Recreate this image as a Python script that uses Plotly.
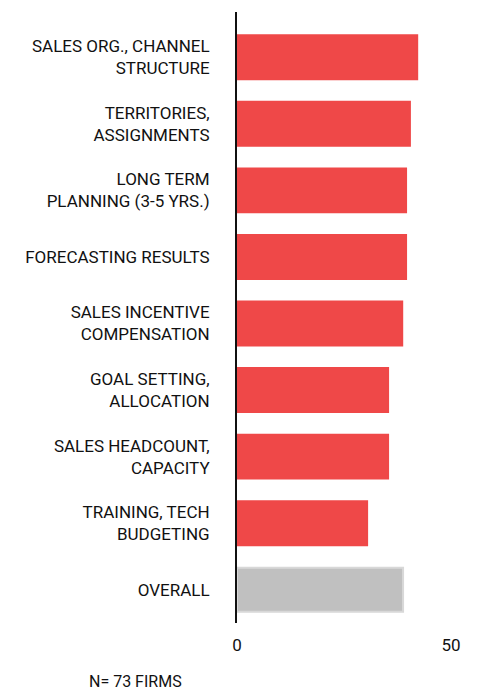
import plotly.graph_objects as go

categories = [
    "SALES ORG., CHANNEL<br>STRUCTURE",
    "TERRITORIES,<br>ASSIGNMENTS",
    "LONG TERM<br>PLANNING (3-5 YRS.)",
    "FORECASTING RESULTS",
    "SALES INCENTIVE<br>COMPENSATION",
    "GOAL SETTING,<br>ALLOCATION",
    "SALES HEADCOUNT,<br>CAPACITY",
    "TRAINING, TECH<br>BUDGETING",
    "OVERALL",
]
values = [42.1, 40.4, 39.5, 39.5, 38.6, 35.3, 35.3, 30.4, 38.8]
colors = ["#ef4848"] * 8 + ["#c0c0c0"]
outlines = ["#ef4848"] * 8 + ["#d8d8d8"]

font = "Roboto, sans-serif"

fig = go.Figure(go.Bar(
    x=values, y=categories, orientation="h",
    marker=dict(color=colors, line=dict(color=outlines, width=2)),
    width=0.66,
))

fig.update_layout(
    width=481, height=695,
    margin=dict(l=229, r=38, t=4, b=80, autoexpand=False),
    plot_bgcolor="white", paper_bgcolor="white",
    font=dict(family=font, size=17, color="#111111"),
    showlegend=False,
    xaxis=dict(range=[0, 50], tickvals=[0, 50], showgrid=False, zeroline=False,
               showline=False, ticks="", ticklabelstandoff=10, automargin=False),
    yaxis=dict(autorange=False, range=[8.5, -0.68], showgrid=False, zeroline=False,
               showline=True, linecolor="#111111", linewidth=2, ticks="",
               ticklabelstandoff=22, automargin=False),
    annotations=[dict(text="N= 73 FIRMS", xref="paper", yref="paper",
                      x=-0.7, y=-0.095, xanchor="left", yanchor="middle",
                      showarrow=False, font=dict(size=16))],
)

fig.write_html("out.html")
